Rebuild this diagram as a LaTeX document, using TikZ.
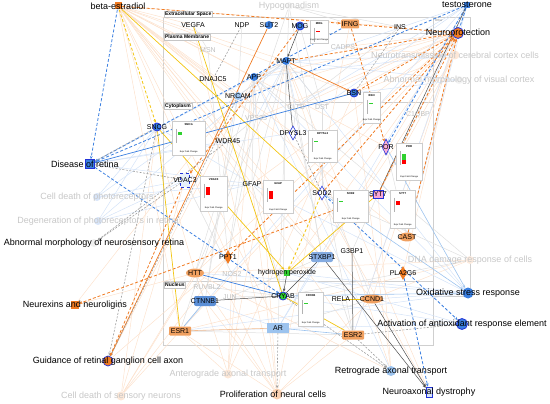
\documentclass[tikz,border=0pt]{standalone}
\usepackage{fontspec}
\setmainfont{Liberation Sans}
\usetikzlibrary{arrows.meta,shapes.geometric,positioning}

\definecolor{ipaorange}{HTML}{F07B22}
\definecolor{ipanode}{HTML}{F0A060}
\definecolor{ipablue}{HTML}{3A7FE0}
\definecolor{ipadark}{HTML}{2233D8}
\definecolor{ipalblue}{HTML}{9CC3EE}
\definecolor{ipasteel}{HTML}{5C8FD6}
\definecolor{ipayellow}{HTML}{F2C511}
\definecolor{ipagreen}{HTML}{2FD12F}

\pgfdeclarelayer{bg}
\pgfsetlayers{bg,main}

\tikzset{
  gene/.style={font=\fontsize{7}{7}\selectfont, inner sep=0pt},
  func/.style={font=\fontsize{9}{9}\selectfont, inner sep=0pt},
  ghost/.style={font=\fontsize{9}{9}\selectfont, text=black!22, inner sep=0pt},
  ghostgene/.style={font=\fontsize{7}{7}\selectfont, text=black!25, inner sep=0pt},
  comp/.style={font=\fontsize{5}{5}\selectfont\bfseries, fill=white, draw=gray!45, line width=0.3pt, inner sep=1pt, anchor=west},
  cellframe/.style={draw=gray!38, line width=0.5pt},
  hub/.style={inner sep=0pt, minimum size=4pt},
  bcirc/.style={circle, fill=ipablue, inner sep=0pt, minimum size=8pt},
  bring/.style={circle, fill=ipablue, draw=ipadark, line width=0.8pt, inner sep=0pt, minimum size=8pt},
  outdiam/.style={diamond, draw=ipadark, fill=white, line width=0.6pt, inner sep=0pt, minimum width=8pt, minimum height=14pt},
  pordiam/.style={outdiam, fill=ipaorange!45!magenta!40},
  odiam/.style={diamond, fill=ipaorange, inner sep=0pt, minimum width=8pt, minimum height=14pt},
  oell/.style={ellipse, fill=ipanode, inner sep=0pt, minimum width=20pt, minimum height=9pt},
  orect/.style={rectangle, rounded corners=1pt, fill=ipanode, inner sep=0pt, minimum width=22pt, minimum height=9pt},
  arrect/.style={rectangle, fill=ipalblue, inner sep=0pt, minimum width=22pt, minimum height=10pt},
  stlrect/.style={rectangle, rounded corners=2pt, fill=ipasteel, inner sep=0pt, minimum width=22pt, minimum height=10pt},
  grncirc/.style={circle, fill=ipagreen, draw=ipadark, line width=0.8pt, inner sep=0pt, minimum size=8pt},
  grnsq/.style={rectangle, fill=ipagreen, inner sep=0pt, minimum size=6pt},
  sytbox/.style={rectangle, fill=magenta!35, draw=ipadark, line width=0.6pt, inner sep=0pt, minimum width=10pt, minimum height=8pt},
  vdacbox/.style={rectangle, fill=ipablue!12, draw=ipadark, dashed, line width=0.6pt, inner sep=0pt, minimum width=9pt, minimum height=14pt},
  fsq/.style={rectangle, inner sep=0pt, minimum size=#1},
  fcirc/.style={circle, inner sep=0pt, minimum size=#1},
  exprframe/.style={rectangle, fill=white, draw=gray!40, line width=0.3pt, inner sep=0pt},
  exprtitle/.style={font=\fontsize{2.8}{3}\selectfont\bfseries, inner sep=0pt},
  exprfoot/.style={font=\fontsize{2.2}{2.5}\selectfont, inner sep=0pt},
  orgline/.style={draw=ipaorange, line width=0.8pt, dash pattern=on 3pt off 2pt},
  orgsolid/.style={draw=ipaorange, line width=0.7pt},
  bluline/.style={draw=ipablue, line width=0.8pt, dash pattern=on 3pt off 2pt},
  blusolid/.style={draw=ipablue, line width=0.7pt},
  lbline/.style={draw=ipalblue, line width=0.6pt},
  lorline/.style={draw=ipanode!70, line width=0.6pt},
  yelline/.style={draw=ipayellow, line width=0.7pt},
  yeldash/.style={draw=ipayellow, line width=0.8pt, dash pattern=on 3pt off 2pt},
  gryline/.style={draw=gray!75, line width=0.6pt, dash pattern=on 2pt off 1.5pt},
  drkline/.style={draw=gray!60!black, line width=0.5pt},
  fadeorg/.style={draw=ipaorange!22, line width=0.5pt},
  fadeblu/.style={draw=ipablue!22, line width=0.5pt},
  fadegry/.style={draw=gray!25, line width=0.5pt},
}

% info box: x, y, width, height, title, bar colour, bar height
\newcommand{\exprbox}[7]{%
  \node[exprframe, minimum width=#3pt, minimum height=#4pt, anchor=north west] (#5box) at (#1,#2) {};
  \node[exprtitle, anchor=north] at ([yshift=-2pt]#5box.north) {#5};
  \draw[gray!60, line width=0.2pt] ([xshift=4pt,yshift=-8pt]#5box.north west) -- ++(0,-14pt);
  \fill[#6] ([xshift=6pt,yshift=-11pt]#5box.north west) rectangle ++(4pt,-#7pt);
  \node[exprfoot, anchor=south] at ([yshift=2pt]#5box.south) {Expr Fold Change};
}

\begin{document}
\begin{tikzpicture}[x=1pt,y=-1pt,>={Stealth[length=3.2pt,width=2.6pt]}]
\useasboundingbox (0,0) rectangle (550,404);

% functions and chemicals outside the cell
\node[fsq=7pt, fill=ipaorange, label={[func]center:beta-estradiol}] (beta) at (118,6) {};
\node[fsq=6pt, fill=ipablue, label={[func]center:testosterone}] (testo) at (467,5) {};
\node[fcirc=11pt, fill=ipaorange, draw=ipadark, line width=0.8pt, label={[func]center:Neuroprotection}] (nprot) at (458,33) {};
\node[fsq=9pt, fill=ipablue, draw=ipadark, line width=0.6pt, label={[func,xshift=-5pt]center:Disease of retina}] (disret) at (90,164) {};
\node[fcirc=8pt, fill=ipablue!20, label={[ghost]center:Cell death of photoreceptors}] (celldeath) at (97,197) {};
\node[fcirc=8pt, fill=ipablue!20, label={[ghost]center:Degeneration of photoreceptors in retina}] (degen) at (98,221) {};
\node[fcirc=8pt, fill=gray!12, label={[func]center:Abnormal morphology of neurosensory retina}] (abnret) at (94,243) {};
\node[fsq=8pt, fill=ipaorange, label={[func]center:Neurexins and neuroligins}] (nrxn) at (75,305) {};
\node[fcirc=10pt, fill=ipaorange, draw=ipadark, line width=0.7pt, label={[func]center:Guidance of retinal ganglion cell axon}] (guide) at (108,361) {};
\node[fcirc=9pt, fill=ipaorange!18, label={[ghost]center:Cell death of sensory neurons}] (sensory) at (121,396) {};
\node[fcirc=9pt, fill=ipaorange!18, label={[ghost]center:Anterograde axonal transport}] (antero) at (228,374) {};
\node[fcirc=11pt, fill=ipaorange!35, label={[func,xshift=-4pt]center:Proliferation of neural cells}] (prolif) at (277,394) {};
\node[fcirc=10pt, fill=ipalblue, label={[func]center:Retrograde axonal transport}] (retro) at (391,371) {};
\node[rectangle, fill=ipablue!20, draw=ipadark, line width=0.6pt, inner sep=0pt, minimum width=6pt, minimum height=10pt, label={[func]center:Neuroaxonal dystrophy}] (nad) at (429,392) {};
\node[fcirc=11pt, fill=ipablue, label={[func]center:Oxidative stress response}] (oxs) at (468,293) {};
\node[fcirc=11pt, fill=ipablue, draw=ipadark, line width=0.8pt, label={[func]center:Activation of antioxidant response element}] (are) at (462,324) {};
\node[fcirc=8pt, fill=ipaorange!15, label={[ghost]center:DNA damage response of cells}] (dnadmg) at (470,260) {};
\node[fcirc=9pt, fill=ipaorange!18, label={[ghost]center:Neurotransmission of cerebral cortex cells}] (ntrans) at (455,55) {};
\node[fcirc=8pt, fill=gray!10, label={[ghost]center:Abnormal morphology of visual cortex}] (abnvis) at (459,80) {};
\node[fcirc=8pt, fill=gray!8, label={[ghost]center:Hypogonadism}] (hypog) at (289,6) {};

% molecules
\node[hub, label={[gene]center:VEGFA}] (vegfa) at (193,25) {};
\node[hub, label={[gene]center:NDP}] (ndp) at (242,25) {};
\node[bcirc, label={[gene]center:SLIT2}] (slit) at (269,25) {};
\node[bring, label={[gene]center:MOG}] (mog) at (300,26) {};
\node[orect, minimum width=18pt, label={[gene]center:IFNG}] (ifng) at (350,24) {};
\node[hub, label={[gene]center:INS}] (ins) at (400,27) {};
\node[bcirc, label={[gene]center:MAPT}] (mapt) at (286,61) {};
\node[hub, label={[gene]center:DNAJC5}] (dnaj) at (213,79) {};
\node[bcirc, label={[gene]center:APP}] (app) at (254,77) {};
\node[bcirc, fill=ipalblue, label={[gene]center:NRCAM}] (nrcam) at (238,96) {};
\node[bring, label={[gene]center:BSN}] (bsn) at (354,93) {};
\node[bring, label={[gene]center:SNCG}] (sncg) at (157,127) {};
\node[hub, label={[gene]center:WDR45}] (wdr) at (228,141) {};
\node[outdiam, label={[gene]center:DPYSL3}] (dpysl) at (293,133) {};
\node[pordiam, minimum height=16pt, label={[gene]center:POR}] (por) at (386,147) {};
\node[vdacbox, label={[gene]center:VDAC3}] (vdac) at (185,180) {};
\node[hub, label={[gene]center:GFAP}] (gfap) at (252,184) {};
\node[outdiam, label={[gene]center:SOD2}] (sod) at (322,193) {};
\node[sytbox, label={[gene]center:SYT7}] (syt) at (378,194) {};
\node[oell, minimum width=16pt, label={[gene]center:CAST}] (cast) at (407,237) {};
\node[hub, label={[gene]center:G3BP1}] (gbp) at (352,251) {};
\node[odiam, label={[gene]center:PPT1}] (ppt) at (228,257) {};
\node[stlrect, fill=ipasteel!75, label={[gene]center:STXBP1}] (stx) at (322,257) {};
\node[odiam, label={[gene]center:PLA2G6}] (pla) at (403,273) {};
\node[oell, minimum width=18pt, label={[gene]center:HTT}] (htt) at (195,273) {};
\node[grnsq, label={[gene]center:hydrogen peroxide}] (hpx) at (287,273) {};
\node[stlrect, label={[gene]center:CTNNB1}] (ctnnb) at (205,301) {};
\node[grncirc, label={[gene]center:CRYAB}] (cryab) at (283,296) {};
\node[hub, label={[gene]center:RELA}] (rela) at (341,299) {};
\node[oell, minimum width=22pt, label={[gene]center:CCND1}] (ccnd) at (372,299) {};
\node[orect, label={[gene]center:ESR1}] (esr1) at (180,331) {};
\node[arrect, label={[gene]center:AR}] (ar) at (278,328) {};
\node[orect, label={[gene]center:ESR2}] (esr2) at (353,335) {};

% faint molecules
\node[hub, label={[ghostgene]center:MSN}] (msn) at (208,50) {};
\node[hub, label={[ghostgene]center:CADPS}] (cadps) at (343,47) {};
\node[hub, label={[ghostgene]center:CLTB}] (cltb) at (296,107) {};
\node[hub, label={[ghostgene]center:DST}] (dst) at (322,107) {};
\node[hub, label={[ghostgene]center:VPS35}] (vps) at (256,118) {};
\node[hub, label={[ghostgene]center:NOS2}] (nos) at (232,274) {};
\node[hub, label={[ghostgene]center:RUVBL2}] (ruvbl) at (207,287) {};
\node[hub, label={[ghostgene]center:JUN}] (jun) at (230,297) {};
\node[hub, label={[ghostgene]center:C1QBP}] (cqbp) at (418,115) {};

% compartments and connectors
\begin{pgfonlayer}{bg}
\draw[cellframe] (163,17) rectangle (433,345);
\draw[cellframe] (163,33) -- (433,33);
\draw[cellframe] (163,102) -- (433,102);
\draw[cellframe] (163,281) -- (433,281);
\draw[cellframe] (433,17) rectangle (470,296);

\foreach \a/\b in {beta/vegfa,beta/msn,beta/app,beta/nrcam,beta/dpysl,beta/gfap,beta/ppt,beta/htt,beta/esr1,beta/ar,beta/esr2,beta/cast,beta/por,beta/ins,beta/bsn,beta/mapt,beta/wdr,beta/dnaj,beta/vps,beta/stx,beta/ccnd,
  nprot/cadps,nprot/dst,nprot/cltb,nprot/gfap,nprot/hpx,nprot/htt,nprot/esr2,nprot/ccnd,nprot/cast,nprot/pla,nprot/stx,nprot/app,nprot/vps,nprot/nrcam,nprot/esr1,
  sensory/ppt,sensory/htt,sensory/esr1,sensory/gfap,sensory/vdac,sensory/sncg,antero/mapt,antero/app,antero/htt,antero/esr1,antero/nos,antero/bsn,
  prolif/esr1,prolif/esr2,prolif/ctnnb,prolif/ccnd,prolif/jun,prolif/vegfa,prolif/app,prolif/htt,prolif/ifng,prolif/gfap,retro/mapt,retro/htt,retro/bsn,retro/syt,
  ntrans/syt,ntrans/bsn,ntrans/cadps,ntrans/stx,guide/ppt,guide/app,nrxn/htt,nrxn/nrcam,dnadmg/esr1,dnadmg/ccnd,dnadmg/htt,nad/mapt,nad/app}
  \draw[fadeorg] (\a) -- (\b);
\foreach \a/\b in {testo/dst,testo/cltb,testo/ar,testo/esr2,testo/cast,testo/cqbp,testo/esr1,testo/app,oxs/app,oxs/gfap,oxs/mapt,oxs/hpx,oxs/ccnd,oxs/htt,oxs/esr1,
  disret/wdr,disret/gfap,disret/dpysl,disret/app,celldeath/sncg,celldeath/mapt,celldeath/vdac,celldeath/gfap,degen/vdac,degen/sncg,degen/gfap,degen/mapt,
  ntrans/mapt,ntrans/app,abnvis/bsn,abnvis/mapt,are/cryab,are/hpx,are/esr1,retro/app,mapt/vps,app/vps,mapt/cltb,sncg/gfap,nrcam/wdr,ctnnb/ar,ar/stx}
  \draw[fadeblu] (\a) -- (\b);
\foreach \a/\b in {hypog/ar,hypog/esr1,hypog/esr2,hypog/ins,hypog/ifng,dnadmg/sod,dnadmg/cryab,dnadmg/app,mapt/app,mapt/nrcam,
  mapt/dst,mapt/gfap,mapt/cryab,app/ppt,gfap/cryab,cryab/jun,cryab/ruvbl,htt/ctnnb,ctnnb/esr1,esr1/esr2,ar/ccnd,rela/esr2,
  vegfa/msn,ndp/nrcam,mog/dst,ins/cltb,cqbp/syt,wdr/vps,gfap/stx,sod/gbp,gbp/ccnd,vdac/nos,dpysl/cltb,por/cast,syt/gbp,stx/jun,
  app/gfap,app/htt,mapt/htt,mapt/stx,vps/ppt,cltb/stx,dst/sod,msn/ppt,nrcam/ctnnb,wdr/ruvbl}
  \draw[fadegry] (\a) -- (\b);

\draw[bluline,->] (beta) -- (disret);
\draw[yeldash,->] (beta) -- (sncg);
\draw[orgline,->] (beta) -- (ifng);
\draw[yelline] (beta) -- (sod);
\draw[bluline,->] (testo) -- (disret);
\draw[bluline,->] (testo) -- (por);
\draw[bluline] (testo) -- (nprot);
\draw[drkline] (testo) -- (syt);
\draw[orgline,->] (ifng) -- (nprot);
\draw[bluline,->] (ifng) -- (disret);
\draw[orgline,->] (ifng) -- (por);
\draw[orgline,->] (mapt) -- (nprot);
\draw[orgsolid,->] (mapt) -- (bsn);
\draw[drkline,->] (mog) -- (mapt);
\draw[drkline] (mapt) -- (dpysl);
\draw[orgsolid,->] (slit) -- (guide);
\draw[gryline] (ndp) -- (dnaj);
\draw[gryline] (ins) -- (bsn);
\draw[yelline] (vegfa) -- (cryab);
\draw[yelline] (sncg) -- (esr1);
\draw[yelline,->] (sncg) -- (hpx);
\draw[gryline,->] (disret) -- (vdac);
\draw[gryline] (disret) -- (sncg);
\draw[bluline,->] (disret) -- (cryab);
\draw[blusolid] (disret) -- (bsn);
\draw[gryline,->] (sncg) -- (guide);
\draw[gryline,->] (nrcam) -- (guide);
\draw[orgline,->] (syt) -- (nrxn);
\draw[orgline,->] (vdac) -- (guide);
\draw[orgline,->] (mog) -- (vdac);
\draw[orgline,->] (sod) -- (nprot);
\draw[orgline,->] (syt) -- (nprot);
\draw[orgline,->] (ppt) -- (nprot);
\draw[orgline,->] (bsn) -- (nprot);
\draw[orgline,->] (cast) -- (nprot);
\draw[blusolid,->] (htt) -- (cryab);
\draw[drkline,->] (hpx) -- (cryab);
\draw[yeldash,->] (sod) -- (hpx);
\draw[yelline] (cryab) -- (esr2);
\draw[yelline] (hpx) -- (syt);
\draw[lbline] (ar) -- (esr2);
\draw[lorline] (esr1) -- (ar);
\draw[gryline,->] (ar) -- (prolif);
\draw[bluline,->] (sod) -- (are);
\draw[bluline,->] (pla) -- (nad);
\draw[drkline,->] (ccnd) -- (nad);
\draw[drkline,->] (stx) -- (nad);
\draw[gryline,->] (esr2) -- (retro);
\draw[gryline,->] (cryab) -- (retro);
\draw[gryline,->] (esr2) -- (are);
\draw[lbline,->] (sod) -- (oxs);
\draw[lbline,->] (por) -- (oxs);
\draw[lbline,->] (cryab) -- (oxs);
\draw[drkline] (stx) -- (cryab);
\draw[lbline] (ctnnb) -- (esr1);
\draw[drkline] (ctnnb) -- (cryab);
\draw[yelline] (rela) -- (ccnd);
\draw[gryline,->] (wdr) -- (abnret);
\draw[gryline,->] (vdac) -- (abnret);
\draw[drkline] (gbp) -- (esr2);
\draw[gryline] (dpysl) -- (sod);
\end{pgfonlayer}

% compartment labels
\node[comp] at (164,14) {Extracellular Space};
\node[comp] at (164,37) {Plasma Membrane};
\node[comp] at (164,106) {Cytoplasm};
\node[comp] at (164,285) {Nucleus};
\node[font=\fontsize{3}{3}\selectfont, text=gray, anchor=north west, inner sep=0pt] at (435,19) {Other};

% expression boxes
\exprbox{310}{20}{18}{23}{MOG}{red}{1}
\exprbox{363}{92}{17}{31}{BSN}{ipagreen}{1}
\exprbox{172}{121}{33}{34}{SNCG}{ipagreen}{3}
\exprbox{308}{130}{29}{32}{DPYSL3}{ipagreen}{1}
\exprbox{396}{143}{26}{37}{POR}{ipagreen}{8}
\exprbox{200}{176}{27}{35}{VDAC3}{red}{8}
\exprbox{263}{180}{30}{33}{GFAP}{red}{8}
\exprbox{333}{190}{35}{32}{SOD2}{ipagreen}{1}
\exprbox{390}{190}{25}{38}{SYT7}{red}{4}
\exprbox{298}{292}{25}{34}{CRYAB}{ipagreen}{1}
\fill[red] (402,160) rectangle (406,164);
\end{tikzpicture}
\end{document}
